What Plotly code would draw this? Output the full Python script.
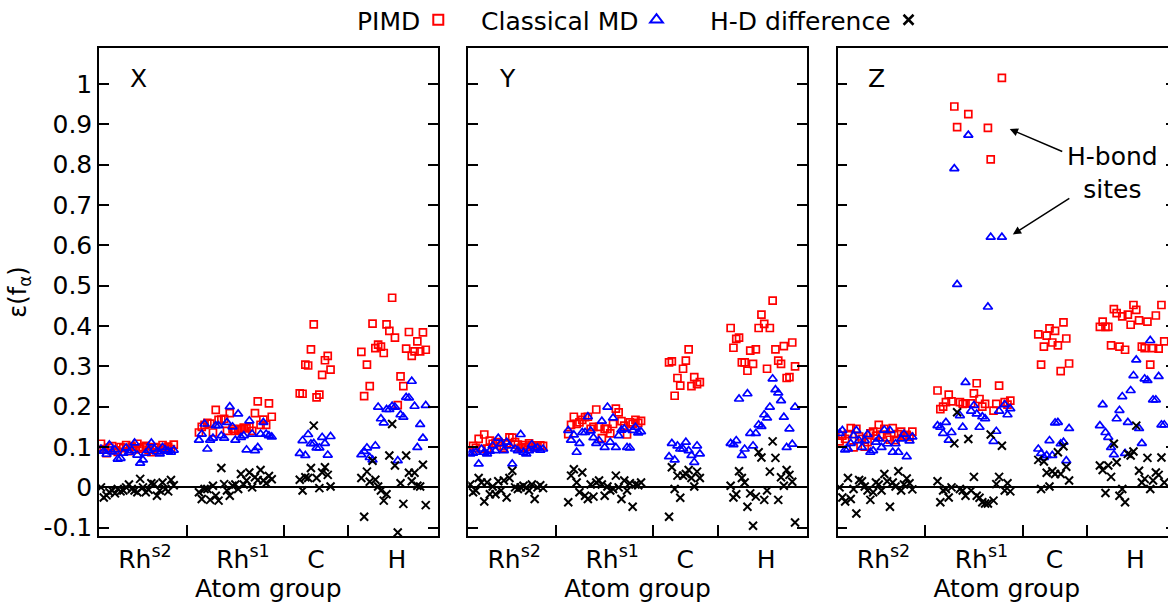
import plotly.graph_objects as go

# ---------------- data ----------------
panels = ["X", "Y", "Z"]
groups = ["Rh<sup>s2</sup>", "Rh<sup>s1</sup>", "C", "H"]
group_first_index = [1, 36, 72, 94]          # atom index of first atom in each group
group_boundaries = [31.6, 66.4, 89.4]         # separators between groups
group_label_pos = [16.7, 51.7, 77.8, 106.7]   # group label positions
ytick_vals = [-0.1, 0, 0.1, 0.2, 0.3, 0.4, 0.5, 0.6, 0.7, 0.8, 0.9, 1.0]
ytick_text = ["-0.1", "0", "0.1", "0.2", "0.3", "0.4", "0.5", "0.6", "0.7", "0.8", "0.9", "1"]
series_names = ["PIMD", "Classical MD", "H-D difference"]

# ---- panel X ----
pimd_X_s2 = [0.108,0.095,0.085,0.098,0.102,0.092,0.088,0.100,0.097,0.105,0.090,0.101,0.094,0.108,0.096,0.099,0.103,0.093,0.087,0.100,0.098,0.092,0.105,0.097,0.101,0.095,0.106]
clas_X_s2 = [0.095,0.090,0.082,0.105,0.088,0.093,0.070,0.072,0.085,0.098,0.087,0.092,0.110,0.080,0.060,0.068,0.085,0.092,0.110,0.095,0.088,0.083,0.099,0.093,0.090,0.087,0.092]
hd_X_s2 = [0.000,-0.025,-0.020,-0.012,-0.008,-0.015,-0.004,-0.010,-0.008,0.000,0.007,-0.004,-0.008,-0.012,0.021,0.000,-0.012,-0.006,0.010,0.008,-0.021,-0.008,0.012,-0.004,-0.010,0.018,0.005]
pimd_X_s1 = [0.136,0.150,0.155,0.160,0.158,0.136,0.192,0.167,0.168,0.170,0.140,0.184,0.145,0.140,0.142,0.145,0.148,0.146,0.150,0.140,0.184,0.213,0.155,0.168,0.155,0.208,0.175]
clas_X_s1 = [0.117,0.132,0.157,0.095,0.117,0.122,0.153,0.153,0.128,0.122,0.161,0.200,0.150,0.117,0.182,0.124,0.128,0.093,0.165,0.132,0.091,0.099,0.132,0.161,0.132,0.128,0.125]
hd_X_s1 = [-0.012,-0.029,-0.004,-0.004,-0.031,0.004,-0.021,-0.033,0.048,0.008,-0.008,-0.021,0.004,0.007,-0.004,0.033,0.007,0.017,0.037,0.000,0.025,0.018,0.043,0.017,0.010,0.028,0.020]
pimd_X_C = [0.233,0.232,0.304,0.302,0.342,0.404,0.223,0.230,0.279,0.315,0.326,0.292]
clas_X_C = [0.084,0.116,0.079,0.131,0.108,0.109,0.098,0.098,0.124,0.109,0.080,0.126]
hd_X_C = [0.019,-0.008,0.025,0.023,0.048,0.153,0.023,-0.002,0.037,0.050,0.031,0.002]
pimd_X_H = [0.336,0.226,0.304,0.251,0.406,0.345,0.354,0.349,0.333,0.404,0.388,0.470,0.371,0.204,0.275,0.251,0.344,0.385,0.326,0.337,0.362,0.337,0.384,0.341]
clas_X_H = [0.081,0.089,0.098,0.074,0.068,0.103,0.199,0.170,0.160,0.193,0.193,0.201,0.199,0.066,0.180,0.174,0.223,0.222,0.263,0.201,0.099,0.156,0.122,0.203]
hd_X_H = [0.023,-0.073,0.039,0.014,0.066,0.019,0.002,-0.008,-0.033,-0.017,0.079,0.157,0.054,-0.112,0.010,-0.041,0.079,0.036,0.015,0.036,0.004,0.002,0.056,-0.044]

# ---- panel Y ----
pimd_Y_s2 = [0.089,0.103,0.098,0.120,0.095,0.131,0.096,0.116,0.108,0.110,0.112,0.103,0.098,0.109,0.124,0.123,0.112,0.106,0.098,0.105,0.100,0.109,0.104,0.099,0.102,0.104,0.103]
clas_Y_s2 = [0.083,0.085,0.087,0.058,0.095,0.087,0.083,0.090,0.103,0.091,0.122,0.108,0.091,0.112,0.103,0.058,0.095,0.091,0.131,0.087,0.083,0.091,0.106,0.095,0.098,0.092,0.095]
hd_Y_s2 = [0.007,-0.012,-0.008,0.023,0.012,-0.035,0.012,-0.017,0.002,-0.017,0.015,-0.008,0.017,-0.025,0.023,0.041,0.000,-0.004,0.000,0.004,0.000,-0.008,0.007,-0.029,0.000,0.005,-0.002]
pimd_Y_s1 = [0.132,0.155,0.175,0.157,0.161,0.167,0.174,0.175,0.145,0.150,0.193,0.150,0.122,0.145,0.145,0.134,0.157,0.195,0.186,0.164,0.153,0.131,0.161,0.157,0.167,0.160,0.165]
clas_Y_s1 = [0.141,0.117,0.130,0.087,0.109,0.136,0.136,0.175,0.140,0.123,0.109,0.116,0.164,0.099,0.199,0.112,0.172,0.099,0.128,0.142,0.145,0.099,0.098,0.141,0.149,0.135,0.138]
hd_Y_s1 = [-0.037,0.029,0.045,0.012,-0.012,0.037,-0.021,-0.029,0.007,-0.023,0.012,0.017,0.007,-0.021,0.002,-0.008,-0.004,0.029,0.000,-0.029,0.017,-0.008,0.010,-0.048,0.007,0.005,0.012]
pimd_Y_C = [0.310,0.312,0.227,0.271,0.252,0.294,0.314,0.342,0.251,0.273,0.256,0.261]
clas_Y_C = [0.076,0.109,0.068,0.103,0.095,0.095,0.112,0.091,0.079,0.062,0.103,0.083]
hd_Y_C = [-0.073,0.050,-0.004,0.029,-0.026,0.029,0.033,0.043,0.023,0.002,0.039,0.023]
pimd_Y_H = [0.395,0.346,0.368,0.371,0.310,0.310,0.289,0.339,0.306,0.342,0.395,0.428,0.405,0.294,0.395,0.463,0.342,0.314,0.306,0.350,0.271,0.273,0.359,0.300]
clas_Y_H = [0.109,0.106,0.116,0.219,0.079,0.095,0.232,0.134,0.103,0.134,0.155,0.151,0.180,0.172,0.199,0.269,0.242,0.234,0.215,0.174,0.099,0.145,0.107,0.199]
hd_Y_H = [0.004,-0.025,-0.017,0.040,0.023,0.012,-0.048,-0.015,-0.095,-0.023,0.087,0.074,-0.031,-0.008,0.039,0.114,0.073,-0.031,0.025,0.004,0.043,0.031,0.014,-0.087]

# ---- panel Z ----
pimd_Z_s2 = [0.114,0.128,0.120,0.132,0.147,0.099,0.145,0.126,0.120,0.101,0.112,0.134,0.138,0.128,0.155,0.131,0.145,0.124,0.118,0.147,0.117,0.132,0.138,0.128,0.130,0.125,0.138]
clas_Z_s2 = [0.134,0.141,0.093,0.095,0.109,0.128,0.141,0.116,0.099,0.116,0.131,0.087,0.091,0.112,0.120,0.099,0.142,0.108,0.141,0.087,0.108,0.087,0.120,0.132,0.076,0.115,0.125]
hd_Z_s2 = [0.000,-0.025,-0.035,0.023,-0.029,-0.004,-0.065,0.018,0.015,0.002,-0.008,-0.031,-0.012,0.012,0.007,-0.008,0.033,0.015,-0.048,0.012,0.002,0.040,-0.008,0.007,0.022,0.010,-0.005]
pimd_Z_s1 = [0.240,0.194,0.200,0.211,0.230,0.213,0.944,0.893,0.211,0.207,0.208,0.925,0.208,0.233,0.258,0.219,0.200,0.207,0.891,0.813,0.190,0.207,0.252,1.015,0.211,0.205,0.215]
clas_Z_s1 = [0.153,0.149,0.134,0.161,0.117,0.136,0.790,0.503,0.178,0.149,0.260,0.873,0.189,0.203,0.182,0.149,0.175,0.170,0.447,0.620,0.114,0.139,0.189,0.620,0.205,0.180,0.195]
hd_Z_s1 = [0.015,-0.037,-0.008,-0.004,-0.025,0.000,0.109,0.186,-0.004,-0.008,-0.021,0.120,-0.008,0.026,-0.021,-0.026,-0.037,-0.040,-0.040,0.131,-0.033,0.008,0.026,0.103,-0.008,0.010,-0.010]
pimd_Z_C = [0.379,0.304,0.349,0.376,0.394,0.359,0.388,0.352,0.288,0.409,0.369,0.307]
clas_Z_C = [0.095,0.084,0.074,0.079,0.116,0.079,0.160,0.161,0.108,0.112,0.066,0.146]
hd_Z_C = [0.068,-0.004,0.064,0.036,0.002,0.040,0.033,0.087,0.033,0.102,0.051,0.017]
pimd_Z_H = [0.398,0.411,0.398,0.398,0.352,0.442,0.432,0.349,0.424,0.341,0.428,0.403,0.452,0.440,0.414,0.349,0.345,0.411,0.304,0.345,0.426,0.344,0.452,0.362]
clas_Z_H = [0.153,0.205,0.136,0.124,0.099,0.081,0.170,0.191,0.225,0.084,0.161,0.240,0.277,0.316,0.146,0.109,0.269,0.265,0.364,0.217,0.217,0.275,0.155,0.155]
hd_Z_H = [0.054,0.043,-0.014,0.054,0.026,0.108,0.062,-0.021,-0.004,-0.037,0.083,0.079,0.089,0.153,0.041,0.012,0.021,0.073,-0.004,0.017,0.037,0.031,0.074,0.012]

panel_data = {
    "X": [[pimd_X_s2, pimd_X_s1, pimd_X_C, pimd_X_H],
          [clas_X_s2, clas_X_s1, clas_X_C, clas_X_H],
          [hd_X_s2, hd_X_s1, hd_X_C, hd_X_H]],
    "Y": [[pimd_Y_s2, pimd_Y_s1, pimd_Y_C, pimd_Y_H],
          [clas_Y_s2, clas_Y_s1, clas_Y_C, clas_Y_H],
          [hd_Y_s2, hd_Y_s1, hd_Y_C, hd_Y_H]],
    "Z": [[pimd_Z_s2, pimd_Z_s1, pimd_Z_C, pimd_Z_H],
          [clas_Z_s2, clas_Z_s1, clas_Z_C, clas_Z_H],
          [hd_Z_s2, hd_Z_s1, hd_Z_C, hd_Z_H]],
}

# ---------------- styles ----------------
FONT = "DejaVu Sans"
FS = 25
marker_styles = [
    dict(symbol="square-open", color="#ff0000", size=7, line=dict(width=1.7, color="#ff0000")),
    dict(symbol="triangle-up-open", color="#0000ff", size=8, line=dict(width=1.7, color="#0000ff")),
    dict(symbol="x-thin-open", color="#000000", size=8, line=dict(width=2, color="#000000")),
]
legend_marker_sizes = [10, 11, 10]
legend_marker_widths = [2, 2, 2.5]

W, H = 1190, 603
ML, MR, MT, MB = 99, 14, 48, 67
plot_w = W - ML - MR
pw, gap = 338.5, 30.8
domains = [[0, pw / plot_w],
           [(pw + gap) / plot_w, (2 * pw + gap) / plot_w],
           [(2 * pw + 2 * gap) / plot_w, 1]]

fig = go.Figure()

for p_i, pname in enumerate(panels):
    xa = "x" if p_i == 0 else f"x{p_i+1}"
    ya = "y" if p_i == 0 else f"y{p_i+1}"
    for s_i, sname in enumerate(series_names):
        xs, ys = [], []
        for g_i, vals in enumerate(panel_data[pname][s_i]):
            xs += [group_first_index[g_i] + j for j in range(len(vals))]
            ys += vals
        fig.add_trace(go.Scatter(x=xs, y=ys, mode="markers", name=sname,
                                 marker=marker_styles[s_i], showlegend=False,
                                 xaxis=xa, yaxis=ya))

# legend-only key symbols (one legend per series; the series name is the legend title on the left)
legend_ids = ["legend", "legend2", "legend3"]
legend_x_px = [355, 479, 708]
for s_i, sname in enumerate(series_names):
    ms = dict(marker_styles[s_i])
    ms["size"] = legend_marker_sizes[s_i]
    ms["line"] = dict(width=legend_marker_widths[s_i], color=ms["color"])
    fig.add_trace(go.Scatter(x=[None], y=[None], mode="markers", name=" ",
                             legendgroup=sname, marker=ms, showlegend=True,
                             legend=legend_ids[s_i], xaxis="x", yaxis="y",
                             hoverinfo="skip"))

axis_common_y = dict(range=[-0.1206, 1.089], showline=True, linecolor="black", linewidth=1.5,
                     mirror="ticks", ticks="inside", ticklen=10, tickwidth=1.5, tickcolor="black",
                     tickvals=ytick_vals, ticktext=ytick_text, showgrid=False,
                     zeroline=True, zerolinecolor="black", zerolinewidth=1.5,
                     tickfont=dict(family=FONT, size=FS, color="black"))
axis_common_x = dict(range=[0.3, 121.2], showline=True, linecolor="black", linewidth=1.5,
                     mirror=True, ticks="", tickvals=group_label_pos, ticktext=groups,
                     showgrid=False, zeroline=False,
                     tickfont=dict(family=FONT, size=FS, color="black"),
                     minor=dict(tickmode="array", tickvals=group_boundaries, ticks="inside",
                                ticklen=11, tickwidth=1.5, tickcolor="black", showgrid=False),
                     title=dict(text="Atom group", font=dict(family=FONT, size=FS, color="black"),
                                standoff=4))

layout = dict(width=W, height=H, margin=dict(l=ML, r=MR, t=MT, b=MB, autoexpand=False),
              paper_bgcolor="white", plot_bgcolor="white",
              font=dict(family=FONT, size=FS, color="black"))
for p_i in range(3):
    sx = "" if p_i == 0 else str(p_i + 1)
    xa = dict(axis_common_x, domain=domains[p_i], anchor="y" + sx)
    ya = dict(axis_common_y, anchor="x" + sx)
    if p_i > 0:
        ya["showticklabels"] = False
    else:
        ya["title"] = dict(text="ε(f<sub>α</sub>)", font=dict(family=FONT, size=24, color="black"),
                           standoff=10)
    layout["xaxis" + sx] = xa
    layout["yaxis" + sx] = ya

for s_i, lid in enumerate(legend_ids):
    layout[lid] = dict(x=(legend_x_px[s_i] - ML) / plot_w, xanchor="left",
                       y=(H - MB - 20) / (H - MT - MB), yanchor="middle",
                       orientation="h", bgcolor="rgba(0,0,0,0)", borderwidth=0,
                       indentation=-10,
                       font=dict(family=FONT, size=FS, color="black"),
                       title=dict(text=series_names[s_i], side="left",
                                  font=dict(family=FONT, size=FS, color="black")),
                       itemsizing="trace")
fig.update_layout(**layout)

# panel labels
for p_i, pname in enumerate(panels):
    sx = "" if p_i == 0 else str(p_i + 1)
    fig.add_annotation(text=pname, xref=f"x{sx} domain", yref=f"y{sx} domain",
                       x=39 / pw, y=(535.5 - 78) / 488, xanchor="center", yanchor="middle",
                       showarrow=False, font=dict(family=FONT, size=FS, color="black"))

# H-bond annotation (panel Z)
fig.add_annotation(text="H-bond<br>sites", xref="x3", yref="y3", x=98.5, y=0.778,
                   xanchor="center", yanchor="middle",
                   showarrow=False, font=dict(family=FONT, size=FS, color="black"))
hbond_heads = [(61.8, 0.888, 54, 23), (62.9, 0.627, 58, -37)]
for hx, hy, axp, ayp in hbond_heads:
    fig.add_annotation(text="", xref="x3", yref="y3", x=hx, y=hy, ax=axp, ay=ayp,
                       showarrow=True, arrowhead=2, arrowsize=1.1, arrowwidth=1.5,
                       arrowcolor="black")

fig.write_html("out.html", config={"displayModeBar": False},
               post_script="document.body.style.margin='0';document.body.style.overflow='hidden';"
                           "document.documentElement.style.overflow='hidden';")
